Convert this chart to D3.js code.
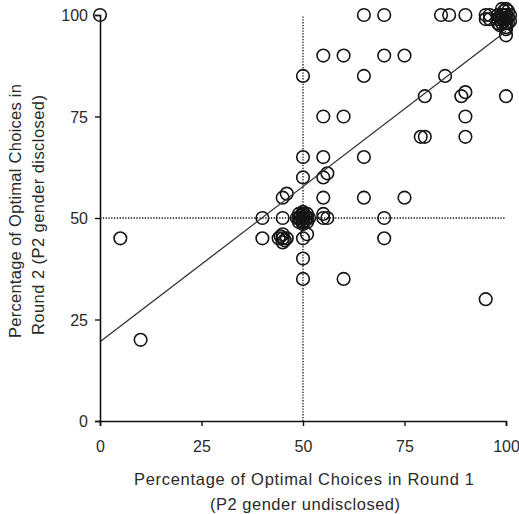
<!DOCTYPE html>
<html>
<head>
<meta charset="utf-8">
<script src="https://cdn.jsdelivr.net/npm/d3@7"></script>
<style>
body { margin: 0; background: #fff; }
text { font-family: "Liberation Sans", Arial, sans-serif; fill: #2a2a2a; }
</style>
</head>
<body>
<div class="chart"></div>
<script>
// round 1 (x) and round 2 (y) percentages, one entry per subject
var roundOne = [0,
    65, 70, 84, 86, 90, 95, 96, 95, 96,
    98, 99, 100, 98, 99, 100, 99, 100, 98, 100, 99.5, 98.5, 99.5, 100, 98.5,
    100.5, 100.5, 99.5, 100.5, 99, 100, 101, 101,
    100,
    55, 60, 70, 75,
    50, 65, 85,
    80, 89, 90, 100,
    55, 60, 90,
    79, 80, 90,
    50, 55, 65,
    50, 55, 56,
    45, 46, 55, 65, 75,
    40, 45,
    50, 49, 51, 50, 50, 49, 51, 49, 51, 48.5, 51.5, 50, 50, 49.5, 50.5, 49.5, 50.5,
    55, 56, 55, 70,
    5, 40, 45, 44, 46, 45, 45, 44.5, 45.5, 50, 51, 70,
    50, 50, 60, 95, 10];
var roundTwo = [100,
    100, 100, 100, 100, 100, 100, 100, 99, 99,
    100, 100, 100, 99, 99, 99, 98, 98, 98, 97, 98.5, 99.5, 100, 96.5, 97.5,
    101, 99.5, 101, 98, 101.5, 101.5, 100, 98.5,
    95,
    90, 90, 90, 90,
    85, 85, 85,
    80, 80, 81, 80,
    75, 75, 75,
    70, 70, 70,
    65, 65, 65,
    60, 60, 61,
    55, 56, 55, 55, 55,
    50, 50,
    50, 50, 50, 49, 51, 49, 51, 51, 49, 50, 50, 48.5, 51.5, 49.5, 50.5, 50.5, 49.5,
    50, 50, 51, 50,
    45, 45, 45, 45, 45, 44, 46, 45.5, 44.5, 45, 46, 45,
    40, 35, 35, 30, 20];
var tickValues = [0, 25, 50, 75, 100];
// fitted line end points
var fitX = [0, 100];
var fitY = [19.5, 96];

var svgWidth = 519;
var svgHeight = 514;
var margin = { top: 15, right: 13, bottom: 93, left: 100 };
var width = svgWidth - margin.left - margin.right;
var height = svgHeight - margin.top - margin.bottom;

var svg = d3.select(".chart")
    .append("svg")
    .attr("width", svgWidth)
    .attr("height", svgHeight);

var chart = svg.append("g")
    .attr("transform", "translate(" + margin.left + "," + margin.top + ")");

var x = d3.scaleLinear().domain([0, 100]).range([0, width]);
var y = d3.scaleLinear().domain([0, 100]).range([height, 0]);

// dotted reference lines at 50%
chart.append("line")
    .attr("x1", x(50)).attr("x2", x(50))
    .attr("y1", y(0)).attr("y2", y(100))
    .attr("stroke", "#111").attr("stroke-width", 1.3)
    .attr("stroke-dasharray", "1.3,1.5");
chart.append("line")
    .attr("x1", x(0)).attr("x2", x(100))
    .attr("y1", y(50)).attr("y2", y(50))
    .attr("stroke", "#111").attr("stroke-width", 1.3)
    .attr("stroke-dasharray", "1.3,1.5");

var pts = roundOne.map(function(d, i) { return [d, roundTwo[i]]; });

chart.selectAll("circle")
    .data(pts)
    .enter().append("circle")
    .attr("cx", function(d) { return x(d[0]); })
    .attr("cy", function(d) { return y(d[1]); })
    .attr("r", 6.3)
    .attr("fill", "none")
    .attr("stroke", "#151515")
    .attr("stroke-width", 1.6);

chart.append("line")
    .attr("x1", x(fitX[0])).attr("y1", y(fitY[0]))
    .attr("x2", x(fitX[1])).attr("y2", y(fitY[1]))
    .attr("stroke", "#333").attr("stroke-width", 1.3);

var xAxis = chart.append("g")
    .attr("transform", "translate(0," + height + ")")
    .call(d3.axisBottom(x).tickValues(tickValues).tickSize(5).tickPadding(15));
var yAxis = chart.append("g")
    .call(d3.axisLeft(y).tickValues(tickValues).tickSize(5).tickPadding(7));

[xAxis, yAxis].forEach(function(a) {
    a.select(".domain").attr("stroke", "#111").attr("stroke-width", 1.6);
    a.selectAll(".tick line").attr("stroke", "#111").attr("stroke-width", 1.4);
    a.selectAll("text").style("font-size", "16px").attr("fill", "#2a2a2a");
});
yAxis.selectAll(".tick text").attr("dy", "0.36em");
xAxis.selectAll(".tick text").attr("dy", "0.71em");

svg.append("text")
    .attr("x", 304).attr("y", 485)
    .attr("text-anchor", "middle")
    .style("font-size", "16.5px")
    .attr("textLength", 340).attr("lengthAdjust", "spacing")
    .text("Percentage of Optimal Choices in Round 1");
svg.append("text")
    .attr("x", 305).attr("y", 510)
    .attr("text-anchor", "middle")
    .style("font-size", "16.5px")
    .attr("textLength", 190).attr("lengthAdjust", "spacing")
    .text("(P2 gender undisclosed)");

svg.append("text")
    .attr("transform", "translate(21,211) rotate(-90)")
    .attr("text-anchor", "middle")
    .style("font-size", "16.5px")
    .attr("textLength", 254).attr("lengthAdjust", "spacing")
    .text("Percentage of Optimal Choices in");
svg.append("text")
    .attr("transform", "translate(44,215) rotate(-90)")
    .attr("text-anchor", "middle")
    .style("font-size", "16.5px")
    .attr("textLength", 240).attr("lengthAdjust", "spacing")
    .text("Round 2 (P2 gender disclosed)");
</script>
</body>
</html>
